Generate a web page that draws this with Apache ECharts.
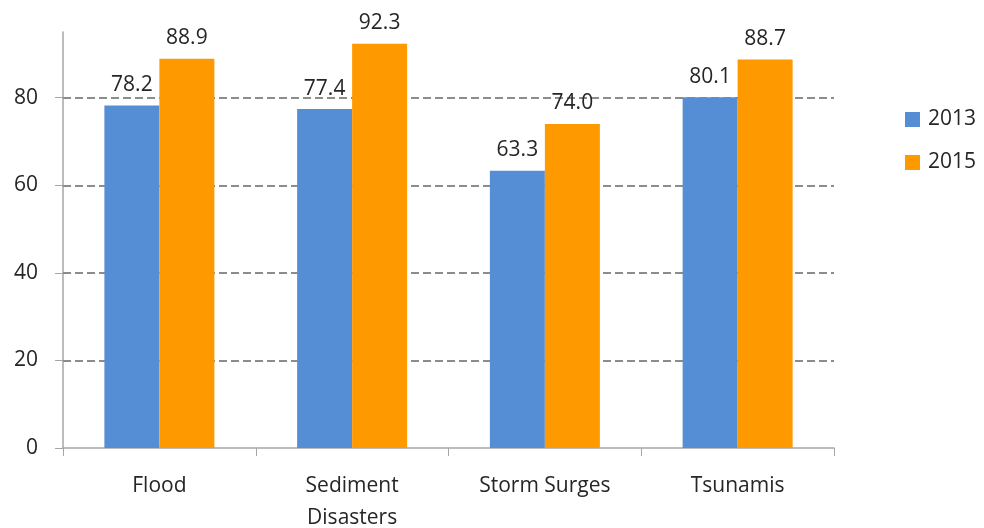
<!DOCTYPE html>
<html><head><meta charset="utf-8">
<script src="https://cdn.jsdelivr.net/npm/echarts@6/dist/echarts.min.js"></script>
<style>html,body{margin:0;padding:0;background:#fff}#c{width:984px;height:528px}</style>
</head><body><div id="c"></div>
<script>
const categories = ['Flood', 'Sediment\nDisasters', 'Storm Surges', 'Tsunamis'];
const values2013 = [78.2, 77.4, 63.3, 80.1];
const values2015 = [88.9, 92.3, 74.0, 88.7];
const yTicks = [0, 20, 40, 60, 80];
const gridTicks = [20, 40, 60, 80];
const seriesNames = ['2013', '2015'];

const font = '"Open Sans", sans-serif';
const chart = echarts.init(document.getElementById('c'));
const labelStyle = {show: true, position: 'top', distance: 10, fontSize: 21, color: '#262626', fontFamily: font,
  formatter: p => p.value.toFixed(1)};
chart.setOption({
  animation: false,
  grid: {left: 63, right: 150, top: 32, bottom: 80, outerBoundsMode: 'none', containLabel: false},
  legend: {orient: 'vertical', left: 905, top: 109, padding: 0, itemWidth: 15, itemHeight: 15, itemGap: 22,
    icon: 'rect', textStyle: {fontSize: 21, color: '#262626', fontFamily: font, padding: [0, 0, 0, 3]},
    data: seriesNames},
  xAxis: {type: 'category', data: categories,
    axisLine: {lineStyle: {color: '#a6a6a6', width: 1.5}},
    axisTick: {show: true, length: 8, lineStyle: {color: '#a6a6a6'}},
    axisLabel: {fontSize: 21, color: '#262626', fontFamily: font, margin: 22, lineHeight: 32}},
  yAxis: {type: 'value', min: 0, max: 95,
    axisLine: {show: true, lineStyle: {color: '#a6a6a6', width: 1.5}},
    axisTick: {show: true, length: 8, customValues: yTicks, lineStyle: {color: '#a6a6a6'}},
    axisLabel: {customValues: yTicks, fontSize: 21, color: '#262626', fontFamily: font, margin: 25},
    splitLine: {show: false}},
  series: [
    {name: seriesNames[0], type: 'bar', data: values2013, barWidth: 55, barGap: '0%', z: 3,
      itemStyle: {color: '#558ed5'}, label: labelStyle,
      markLine: {silent: true, symbol: 'none', z: 1, label: {show: false},
        lineStyle: {type: [8, 4], color: '#8c8c8c', width: 2},
        data: gridTicks.map(v => ({yAxis: v}))}},
    {name: seriesNames[1], type: 'bar', data: values2015, barWidth: 55, z: 3,
      itemStyle: {color: '#ff9900'}, label: labelStyle}
  ]
});
</script></body></html>
